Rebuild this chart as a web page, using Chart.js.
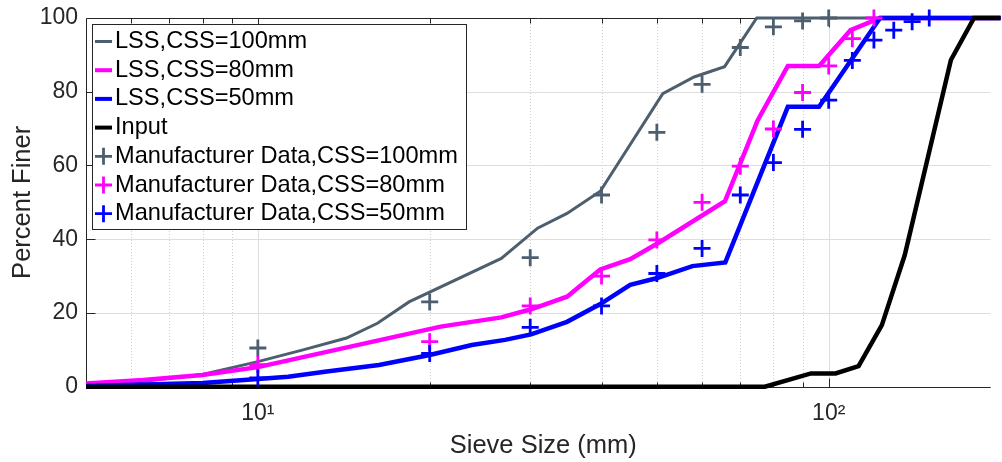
<!DOCTYPE html>
<html>
<head>
<meta charset="utf-8">
<script src="https://cdn.jsdelivr.net/npm/chart.js@4.4.1/dist/chart.umd.min.js"></script>
<style>
  html, body { margin: 0; padding: 0; background: #fff; width: 1002px; height: 462px; overflow: hidden; }
  canvas { display: block; }
</style>
</head>
<body>
<canvas id="c" width="1002" height="462"></canvas>
<script>
// Simulated size distributions (sieve size in mm, percent finer)
const lss100Size = [5, 6.3, 8, 10, 12, 14.3, 16.2, 18.4, 26.7, 30.9, 34.8, 39.8, 51.2, 58.1, 65.7, 74.8, 200];
const lss100Pct  = [0.7, 1.5, 3.3, 6.8, 10, 13.2, 17.2, 23, 34.8, 43, 47, 53, 79.5, 84, 86.8, 100, 100];

const lss80Size = [5, 6.3, 8, 10, 20.9, 26.7, 30.1, 34.8, 39.8, 44.9, 50.2, 65.8, 75.1, 84.8, 96.2, 109.2, 123, 200];
const lss80Pct  = [0.9, 1.8, 3.2, 5.3, 16.3, 18.8, 21, 24.4, 31.8, 34.6, 38.9, 50.3, 72.3, 87, 87, 96.7, 100, 100];

const lss50Size = [5, 8, 10, 11.3, 13.2, 16.3, 20, 23.7, 27.1, 30.1, 34.8, 39.8, 44.9, 49.9, 57.7, 65.9, 84.8, 96.2, 123, 200];
const lss50Pct  = [0.2, 1, 2.1, 2.7, 4.1, 5.9, 8.6, 11.3, 12.7, 14.2, 17.6, 22.4, 27.6, 29.4, 32.7, 33.7, 75.9, 75.9, 100, 100];

const inputSize = [5, 77.3, 93.1, 102.8, 112.8, 123.9, 135.9, 163.7, 179.7, 200];
const inputPct  = [0, 0, 3.6, 3.6, 5.6, 16.7, 35.7, 88.6, 100, 100];

// Manufacturer gradation tables
const mfgSize   = [10, 20, 30, 40, 50, 60, 70, 80, 90, 100, 110, 120, 130, 140, 150];
const mfg100Pct = [10.5, 23, 35, 52, 69, 82, 92, 97.6, 99.2, 100];
const mfg80Pct  = [6, 12.2, 21.9, 30, 39.8, 50, 59.8, 69.9, 79.8, 87, 94.4, 100];
const mfg50Pct  = [2.4, 9, 16.1, 21.9, 30.7, 37.5, 52, 60.8, 69.8, 77.7, 88.5, 94, 96.7, 99, 100];

const yTicks = [0, 20, 40, 60, 80, 100];
const xTickText = { 10: '10\u00B9', 100: '10\u00B2' };
const xTitle = 'Sieve Size (mm)';
const xAxisEnd = 200;       // full axis span (mm); the canvas shows it up to ~192 mm

const pairs = (xs, ys) => ys.map((v, i) => ({ x: xs[i], y: v }));

const GRAY = '#4d5e6e', MAGENTA = '#ff00ff', BLUE = '#0000ff', BLACK = '#000000';
const AXIS = '#262626';
const FONT = '"Liberation Sans", Arial, Helvetica, sans-serif';

function lineSet(label, xs, ys, color, width, order) {
  return { label, data: pairs(xs, ys), borderColor: color, backgroundColor: color,
           borderWidth: width, pointRadius: 0, tension: 0, fill: false, clip: false, order };
}
function markSet(label, xs, ys, color, order) {
  return { label, data: pairs(xs, ys), showLine: false, borderColor: color, backgroundColor: color,
           pointStyle: 'cross', pointRadius: 8.5, pointBorderWidth: 2.8, pointBorderColor: color,
           pointHoverRadius: 8.5, clip: false, order };
}

// Axes box, grid and inward tick marks (log decades: 1..9 × 10^n only)
const axesFrame = {
  id: 'axesFrame',
  beforeDatasetsDraw(chart) {
    const { ctx, chartArea: a, scales: { x, y } } = chart;
    const isMajor = v => Math.abs(Math.log10(v) - Math.round(Math.log10(v))) < 1e-9;
    const wholeStep = v => {
      const s = v / Math.pow(10, Math.floor(Math.log10(v) + 1e-9));
      return Math.abs(s - Math.round(s)) < 1e-6;
    };
    const logTicks = x.ticks.map(t => t.value)
      .filter(v => v > x.min * 1.0001 && v < x.max * 0.9999 && wholeStep(v));
    ctx.save();
    ctx.lineWidth = 1;
    // horizontal grid
    ctx.strokeStyle = '#dedede';
    yTicks.forEach(v => {
      if (v <= 0 || v >= 100) return;
      const py = Math.round(y.getPixelForValue(v)) + 0.5;
      ctx.beginPath(); ctx.moveTo(a.left, py); ctx.lineTo(a.right, py); ctx.stroke();
    });
    // vertical grid
    logTicks.forEach(v => {
      const px = Math.round(x.getPixelForValue(v)) + 0.5;
      const major = isMajor(v);
      ctx.strokeStyle = major ? '#dedede' : '#cfcfcf';
      ctx.setLineDash(major ? [] : [1, 2]);
      ctx.beginPath(); ctx.moveTo(px, a.top); ctx.lineTo(px, a.bottom); ctx.stroke();
    });
    ctx.setLineDash([]);
    // frame
    ctx.strokeStyle = AXIS;
    const L = Math.round(a.left) + 0.5, T = Math.round(a.top) + 0.5, B = Math.round(a.bottom) + 0.5;
    ctx.beginPath();
    ctx.moveTo(a.right, T); ctx.lineTo(L, T); ctx.lineTo(L, B); ctx.lineTo(a.right, B);
    ctx.stroke();
    // x tick marks (bottom and top, pointing inward)
    logTicks.forEach(v => {
      const px = Math.round(x.getPixelForValue(v)) + 0.5;
      const len = isMajor(v) ? 9 : 5;
      ctx.beginPath();
      ctx.moveTo(px, B); ctx.lineTo(px, B - len);
      ctx.moveTo(px, T); ctx.lineTo(px, T + len);
      ctx.stroke();
    });
    // y tick marks
    yTicks.forEach(v => {
      const py = Math.round(y.getPixelForValue(v)) + 0.5;
      ctx.beginPath(); ctx.moveTo(L, py); ctx.lineTo(L + 9, py); ctx.stroke();
    });
    ctx.restore();
  },
  afterDraw(chart) {
    // x-axis title, centred on the full axis span
    const { ctx, scales: { x } } = chart;
    const cx = (x.left + x.getPixelForValue(xAxisEnd)) / 2;
    ctx.save();
    ctx.font = '25.5px ' + FONT;
    ctx.fillStyle = AXIS;
    ctx.textAlign = 'center';
    ctx.textBaseline = 'middle';
    ctx.fillText(xTitle, cx, chart.height - 1 - 15.3);
    ctx.restore();
  }
};

// Boxed legend in the upper-left corner of the axes
const boxLegend = {
  id: 'boxLegend',
  afterDraw(chart) {
    const ctx = chart.ctx;
    const L = 92, T = 24, R = 466, B = 229;
    ctx.save();
    ctx.fillStyle = '#ffffff';
    ctx.fillRect(L, T, R - L, B - T);
    ctx.strokeStyle = AXIS; ctx.lineWidth = 1;
    ctx.strokeRect(L + 0.5, T + 0.5, R - L, B - T);
    ctx.font = '23.6px ' + FONT;
    ctx.textBaseline = 'middle';
    ctx.textAlign = 'left';
    chart.data.datasets.forEach((ds, i) => {
      const cy = 41.5 + i * 28.7;
      ctx.strokeStyle = ds.borderColor;
      ctx.beginPath();
      if (ds.showLine === false) {
        ctx.lineWidth = ds.pointBorderWidth;
        ctx.moveTo(95, cy); ctx.lineTo(112, cy);
        ctx.moveTo(103.5, cy - 8.5); ctx.lineTo(103.5, cy + 8.5);
      } else {
        ctx.lineWidth = Math.min(ds.borderWidth, 4);
        ctx.moveTo(95, cy); ctx.lineTo(112, cy);
      }
      ctx.stroke();
      ctx.fillStyle = '#000';
      ctx.fillText(ds.label, 115, cy);
    });
    ctx.restore();
  }
};

new Chart(document.getElementById('c'), {
  type: 'line',
  data: {
    datasets: [
      lineSet('LSS,CSS=100mm', lss100Size, lss100Pct, GRAY, 3, 7),
      lineSet('LSS,CSS=80mm', lss80Size, lss80Pct, MAGENTA, 4.5, 6),
      lineSet('LSS,CSS=50mm', lss50Size, lss50Pct, BLUE, 4.5, 5),
      lineSet('Input', inputSize, inputPct, BLACK, 4.5, 4),
      markSet('Manufacturer Data,CSS=100mm', mfgSize, mfg100Pct, GRAY, 3),
      markSet('Manufacturer Data,CSS=80mm', mfgSize, mfg80Pct, MAGENTA, 2),
      markSet('Manufacturer Data,CSS=50mm', mfgSize, mfg50Pct, BLUE, 1)
    ]
  },
  options: {
    responsive: false,
    animation: false,
    events: [],
    layout: { padding: { top: 18, left: 0, right: 0, bottom: 0 } },
    plugins: { legend: { display: false }, tooltip: { enabled: false } },
    scales: {
      x: {
        type: 'logarithmic',
        min: 5, max: 192.2,
        grid: { display: false, drawTicks: false },
        border: { display: false },
        ticks: {
          autoSkip: false, maxRotation: 0, minRotation: 0,
          padding: 13, color: AXIS, font: { family: FONT, size: 23 },
          callback: v => xTickText[Math.round(v)] && Math.abs(v - Math.round(v)) < 1e-9 ? xTickText[Math.round(v)] : ''
        },
        title: { display: false },
        afterFit: s => { s.height = 75.3; s.paddingLeft = 0; s.paddingRight = 0; }
      },
      y: {
        min: 0, max: 100,
        afterBuildTicks: s => { s.ticks = yTicks.map(v => ({ value: v })); },
        grid: { display: false, drawTicks: false },
        border: { display: false },
        ticks: { padding: 8, color: AXIS, font: { family: FONT, size: 23 } },
        title: { display: true, text: 'Percent Finer', color: AXIS,
                 font: { family: FONT, size: 25.5 }, padding: { top: 8, bottom: 0 } },
        afterFit: s => { s.width = 86; s.paddingTop = 0; s.paddingBottom = 0; }
      }
    }
  },
  plugins: [axesFrame, boxLegend]
});
</script>
</body>
</html>
